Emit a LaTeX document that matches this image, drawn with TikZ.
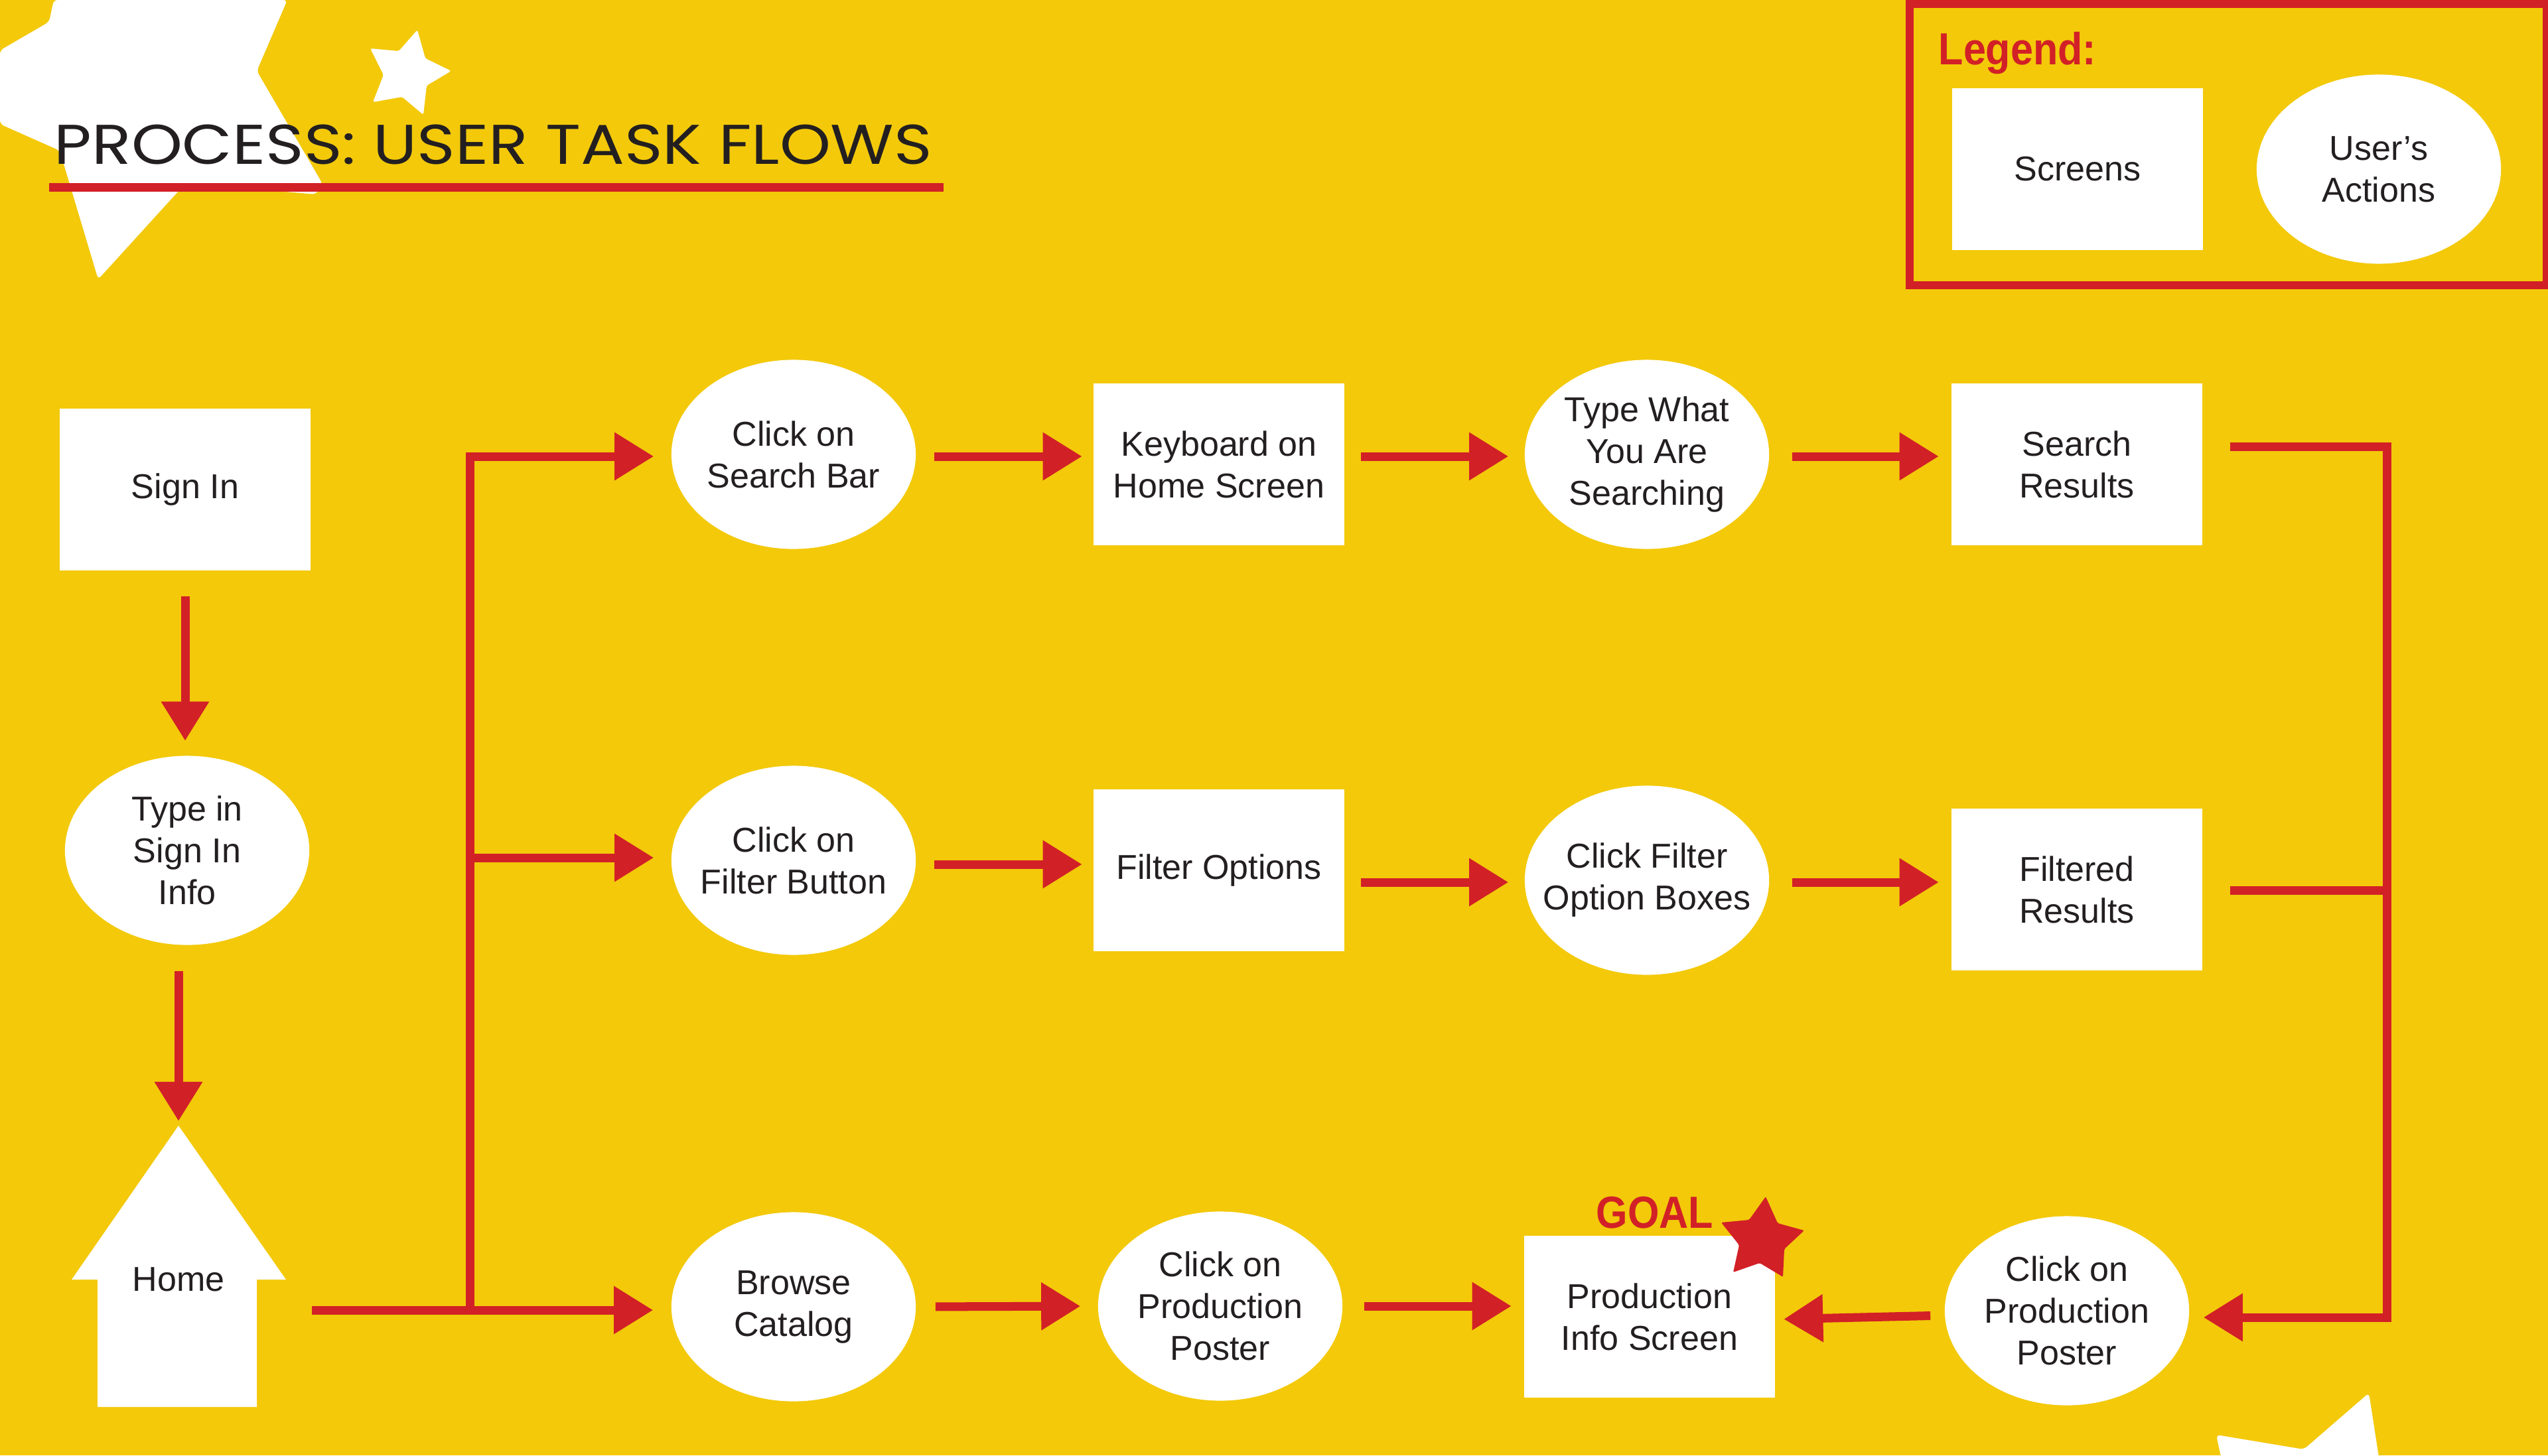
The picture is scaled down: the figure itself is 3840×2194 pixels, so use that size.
\documentclass[tikz,border=0pt]{standalone}
\usepackage{fontspec}
\setmainfont{Liberation Sans}
\newfontfamily\titlefont{Poppins}
\usetikzlibrary{arrows.meta,shapes.geometric}
\definecolor{bgY}{RGB}{243,201,10}
\definecolor{rd}{RGB}{210,32,39}
\definecolor{ink}{RGB}{35,31,32}
\begin{document}
\begin{tikzpicture}[x=0.01cm,y=-0.01cm,
  txt/.style={font=\fontsize{14.8pt}{17.9pt}\selectfont, text=ink, align=center, inner sep=0pt},
  scr/.style={rectangle, fill=white, minimum width=3.77cm, minimum height=2.43cm, inner sep=0pt, txt},
  act/.style={ellipse, fill=white, minimum width=3.68cm, minimum height=2.85cm, inner sep=0pt},
  ln/.style={draw=rd, line width=0.13cm, line join=miter},
  arr/.style={ln, -{Triangle[length=0.59cm,width=0.69cm]}},
  rdlabel/.style={font=\fontsize{19.3pt}{21pt}\selectfont\bfseries, text=rd, inner sep=0pt, xscale=0.9}
]
% background
\fill[bgY] (0,0) rectangle (3840,2194);
\useasboundingbox (0,0) rectangle (3840,2194);

% decorative stars
\fill[white, rounded corners=0.06cm] (81,0) -- (433,0) -- (387,107) -- (486,277) -- (476,293) -- (280,276) -- (148,421) -- (90,227) -- (0,187) -- (0,76) -- (74,33) -- cycle;
\fill[white, rounded corners=0.03cm] (629,45) -- (641,88) -- (680,107) -- (643,129) -- (638,173) -- (606,146) -- (562,154) -- (578,113) -- (558,73) -- (601,77) -- cycle;
\fill[white, rounded corners=0.06cm] (3350,2210) -- (3340,2163) -- (3472,2185) -- (3570,2100) -- (3587,2210) -- cycle;

% title
\node[anchor=base west, inner sep=0pt, xscale=1.16, font=\titlefont\fontsize{24pt}{28pt}\selectfont, text=ink] (title) at (81,247) {PROCESS: USER TASK FLOWS};
\fill[rd] (74,276) rectangle (1422,289);

% legend
\draw[rd, line width=0.12cm] (2878,6) rectangle (3838,430);
\node[rdlabel, anchor=base west] (leg) at (2921,98) {Legend:};
\node[scr] (lscr) at (3131,255) {Screens};
\node[act, label={[txt]center:{User’s\\Actions}}] (lact) at (3585,255) {};

% home shape
\fill[white] (269,1697) -- (431,1929) -- (387,1929) -- (387,2121) -- (147,2121) -- (147,1929) -- (108,1929) -- cycle;
\node[txt] (home) at (269,1929) {Home};
\coordinate (homeA) at (269,1697);
\coordinate (homeE) at (431,1975);

% nodes
\node[scr] (si) at (279,738) {Sign In};
\node[act, label={[txt]center:{Type in\\Sign In\\Info}}] (tsi) at (282,1282) {};

\node[act, label={[txt]center:{Click on\\Search Bar}}] (csb) at (1196,685) {};
\node[scr] (kb) at (1837,700) {Keyboard on\\Home Screen};
\node[act, label={[txt]center:{Type What\\You Are\\Searching}}] (tw) at (2482,685) {};
\node[scr] (sr) at (3130,700) {Search\\Results};

\node[act, label={[txt]center:{Click on\\Filter Button}}] (cfb) at (1196,1297) {};
\node[scr] (fo) at (1837,1312) {Filter Options};
\node[act, label={[txt]center:{Click Filter\\Option Boxes}}] (cfob) at (2482,1327) {};
\node[scr] (fr) at (3130,1341) {Filtered\\Results};

\node[act, label={[txt]center:{Browse\\Catalog}}] (bc) at (1196,1970) {};
\node[act, label={[txt]center:{Click on\\Production\\Poster}}] (cpp) at (1839,1969) {};
\node[scr] (pis) at (2486,1985) {Production\\Info Screen};
\node[act, label={[txt]center:{Click on\\Production\\Poster}}] (rcpp) at (3115,1976) {};

% goal marker
\node[rdlabel, anchor=base west] (goal) at (2405,1851) {GOAL};
\fill[rd, rounded corners=0.02cm] (2661,1804) -- (2679,1844) -- (2719,1855) -- (2689,1883) -- (2687,1925) -- (2652,1904) -- (2612,1918) -- (2621,1877) -- (2594,1843) -- (2636,1839) -- cycle;

% helper coordinates
\coordinate (j1) at (708,688);
\coordinate (j2) at (708,1293);
\coordinate (j3) at (708,1975);
\coordinate (r1) at (3597,673);
\coordinate (r2) at (3597,1342);
\coordinate (r3) at (3597,1986);
\coordinate (y2a) at (0,1303);
\coordinate (y2b) at (0,1330);
\coordinate (y3a) at (0,1983);
\coordinate (y3b) at (0,1989);

% connectors
\draw[arr, shorten <=0.39cm, shorten >=0.22cm] (si.south) -- (tsi.north -| si.south);
\draw[arr, shorten <=0.39cm, shorten >=0.07cm] (tsi.south -| homeA) -- (homeA);
\draw[arr, shorten <=0.39cm, shorten >=0.27cm] (homeE) -- (bc.west |- homeE);
\draw[arr, shorten >=0.26cm] (j3) -- (j1) -- (csb.west |- j1);
\draw[arr, shorten >=0.26cm] (j2) -- (cfb.west |- j2);

\draw[arr, shorten <=0.27cm, shorten >=0.17cm] (csb.east |- j1) -- (kb.west |- j1);
\draw[arr, shorten <=0.25cm, shorten >=0.24cm] (kb.east |- j1) -- (tw.west |- j1);
\draw[arr, shorten <=0.34cm, shorten >=0.19cm] (tw.east |- j1) -- (sr.west |- j1);
\draw[arr, shorten <=0.42cm, shorten >=0.21cm] (sr.east |- r1) -- (r1) -- (r3) -- (rcpp.east |- r3);
\draw[ln, shorten <=0.42cm] (fr.east |- r2) -- (r2);

\draw[arr, shorten <=0.27cm, shorten >=0.17cm] (cfb.east |- y2a) -- (fo.west |- y2a);
\draw[arr, shorten <=0.25cm, shorten >=0.24cm] (fo.east |- y2b) -- (cfob.west |- y2b);
\draw[arr, shorten <=0.34cm, shorten >=0.19cm] (cfob.east |- y2b) -- (fr.west |- y2b);

\draw[arr, shorten <=0.29cm, shorten >=0.26cm] (bc.east) -- (cpp.west);
\draw[arr, shorten <=0.32cm, shorten >=0.19cm] (cpp.east) -- (pis.west |- cpp.east);
\draw[arr, shorten <=0.21cm, shorten >=0.13cm] (rcpp.west |- y3a) -- (pis.east |- y3b);
\end{tikzpicture}
\end{document}
